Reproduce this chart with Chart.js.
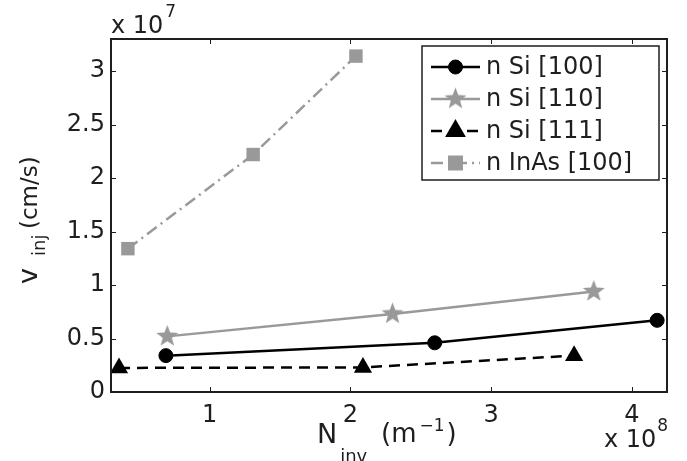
<!DOCTYPE html>
<html>
<head>
<meta charset="utf-8">
<style>
  html, body { margin: 0; padding: 0; background: #fff; }
  #wrap { width: 687px; height: 461px; position: relative; }
</style>
<script src="https://cdn.jsdelivr.net/npm/chart.js"></script>
</head>
<body>
<div id="wrap"><canvas id="injChart"></canvas></div>
<script>
// values (x in 1e8 m^-1, y in 1e7 cm/s)
var si100X = [0.69, 2.60, 4.18];
var si100Y = [0.34, 0.46, 0.67];
var si110X = [0.70, 2.30, 3.73];
var si110Y = [0.52, 0.73, 0.94];
var si111X = [0.357, 2.09, 3.59];
var si111Y = [0.225, 0.23, 0.34];
var inasX = [0.42, 1.31, 2.04];
var inasY = [1.34, 2.22, 3.14];

var seriesNames = ['n Si [100]', 'n Si [110]', 'n Si [111]', 'n InAs [100]'];
var xTicks = [1, 2, 3, 4];
var yTicks = [0, 0.5, 1, 1.5, 2, 2.5, 3];

(function injection () {
    'use strict';

    var FONT = 'DejaVu Sans';
    var INK = '#1e1e1e';
    var GREY = '#999999';

    function points (xs, ys) {
        return xs.map(function (x, i) { return { x: x, y: ys[i] }; });
    }

    function makeStar (color, outer, inner) {
        var c = document.createElement('canvas');
        var size = Math.ceil(outer * 2 + 2);
        c.width = size;
        c.height = size;
        var g = c.getContext('2d');
        var cx = size / 2;
        g.fillStyle = color;
        g.beginPath();
        for (var i = 0; i < 10; i++) {
            var r = i % 2 ? inner : outer;
            var a = -Math.PI / 2 + i * Math.PI / 5;
            var px = cx + r * Math.cos(a);
            var py = cx + r * Math.sin(a);
            if (i === 0) { g.moveTo(px, py); } else { g.lineTo(px, py); }
        }
        g.closePath();
        g.fill();
        return c;
    }

    var star = makeStar(GREY, 11.5, 4.8);

    var datasets = [{
        label: seriesNames[0],
        data: points(si100X, si100Y),
        borderColor: '#000',
        backgroundColor: '#000',
        borderWidth: 2.5,
        pointStyle: 'circle',
        pointRadius: 7,
        pointBorderWidth: 1
    }, {
        label: seriesNames[1],
        data: points(si110X, si110Y),
        borderColor: GREY,
        backgroundColor: GREY,
        borderWidth: 2.5,
        pointStyle: star,
        pointRadius: 11
    }, {
        label: seriesNames[2],
        data: points(si111X, si111Y),
        borderColor: '#000',
        backgroundColor: '#000',
        borderWidth: 2.5,
        borderDash: [11, 7],
        pointStyle: 'triangle',
        pointRadius: 10.5,
        pointBorderWidth: 0
    }, {
        label: seriesNames[3],
        data: points(inasX, inasY),
        borderColor: GREY,
        backgroundColor: GREY,
        borderWidth: 2.5,
        borderDash: [12, 5, 2, 5],
        pointStyle: 'rect',
        pointRadius: 9.5,
        pointBorderWidth: 0
    }];

    function drawMarker (ctx, ds, x, y) {
        var r = ds.pointRadius;
        ctx.save();
        ctx.setLineDash([]);
        ctx.fillStyle = ds.backgroundColor;
        ctx.strokeStyle = ds.borderColor;
        ctx.lineWidth = ds.pointBorderWidth || 0;
        if (ds.pointStyle instanceof HTMLCanvasElement) {
            ctx.drawImage(ds.pointStyle, x - ds.pointStyle.width / 2, y - ds.pointStyle.height / 2);
        } else {
            ctx.beginPath();
            if (ds.pointStyle === 'circle') {
                ctx.arc(x, y, r, 0, Math.PI * 2);
            } else if (ds.pointStyle === 'triangle') {
                ctx.moveTo(x, y - r);
                ctx.lineTo(x + r * Math.sin(2 * Math.PI / 3), y - r * Math.cos(2 * Math.PI / 3));
                ctx.lineTo(x + r * Math.sin(4 * Math.PI / 3), y - r * Math.cos(4 * Math.PI / 3));
                ctx.closePath();
            } else {
                var s = r * Math.SQRT1_2;
                ctx.rect(x - s, y - s, 2 * s, 2 * s);
            }
            ctx.fill();
            if (ctx.lineWidth) { ctx.stroke(); }
        }
        ctx.restore();
    }

    function text (ctx, str, x, y, size) {
        ctx.font = size + 'px "' + FONT + '"';
        ctx.fillText(str, x, y);
        return x + ctx.measureText(str).width;
    }

    var matlabFrame = {
        id: 'matlabFrame',
        afterDraw: function (chart) {
            var ctx = chart.ctx;
            var a = chart.chartArea;
            var xs = chart.scales.x;
            var ys = chart.scales.y;
            var tick = 5;

            ctx.save();
            ctx.strokeStyle = INK;
            ctx.lineWidth = 1;
            ctx.beginPath();
            xTicks.forEach(function (v) {
                var px = Math.round(xs.getPixelForValue(v)) + 0.5;
                ctx.moveTo(px, a.bottom); ctx.lineTo(px, a.bottom - tick);
                ctx.moveTo(px, a.top); ctx.lineTo(px, a.top + tick);
            });
            yTicks.forEach(function (v) {
                var py = Math.round(ys.getPixelForValue(v)) + 0.5;
                ctx.moveTo(a.left, py); ctx.lineTo(a.left + tick, py);
                ctx.moveTo(a.right, py); ctx.lineTo(a.right - tick, py);
            });
            ctx.stroke();

            ctx.lineWidth = 2;
            ctx.strokeRect(a.left, a.top, a.right - a.left, a.bottom - a.top);

            // legend
            var lx = 422, ly = 46, lw = 237, lh = 134;
            ctx.fillStyle = '#fff';
            ctx.fillRect(lx, ly, lw, lh);
            ctx.lineWidth = 1.5;
            ctx.strokeStyle = INK;
            ctx.strokeRect(lx, ly, lw, lh);
            var rows = [67, 99, 131, 163];
            chart.data.datasets.forEach(function (ds, i) {
                var y = rows[i];
                ctx.save();
                ctx.strokeStyle = ds.borderColor;
                ctx.lineWidth = ds.borderWidth;
                ctx.setLineDash(ds.borderDash || []);
                ctx.beginPath();
                ctx.moveTo(431, y);
                ctx.lineTo(480, y);
                ctx.stroke();
                ctx.restore();
                drawMarker(ctx, ds, 455.5, y);
                ctx.fillStyle = INK;
                ctx.textBaseline = 'middle';
                text(ctx, ds.label, 486, y + 1, 24);
            });

            ctx.fillStyle = INK;
            ctx.textBaseline = 'alphabetic';

            // exponent labels
            var e = text(ctx, 'x 10', 111, 33, 24);
            text(ctx, '7', e + 2, 17, 17);
            e = text(ctx, 'x 10', 604, 447, 24);
            text(ctx, '8', e + 1, 431, 17);

            // x title
            var cx = text(ctx, 'N', 317, 443, 27);
            text(ctx, 'inv', cx + 3, 462, 18);
            cx = text(ctx, '(m', 381, 442, 26);
            cx = text(ctx, '\u22121', cx + 3, 431, 17);
            text(ctx, ')', cx + 2, 442, 26);

            // y title
            ctx.translate(37, 0);
            ctx.rotate(-Math.PI / 2);
            text(ctx, 'v', -284, 0, 27);
            text(ctx, 'inj', -256, 8, 18);
            text(ctx, '(cm/s)', -229, 0, 23);
            ctx.restore();
        }
    };

    var ctx = document.getElementById('injChart').getContext('2d');

    new Chart(ctx, {
        type: 'line',
        data: { datasets: datasets },
        options: {
            responsive: true,
            maintainAspectRatio: false,
            animation: false,
            layout: { padding: { top: 39, right: 20, left: 0, bottom: 0 } },
            datasets: { line: { clip: false, tension: 0 } },
            plugins: {
                legend: { display: false },
                tooltip: { enabled: false }
            },
            scales: {
                x: {
                    type: 'linear',
                    min: 0.3,
                    max: 4.25,
                    grid: { display: false },
                    border: { display: false },
                    afterBuildTicks: function (scale) {
                        scale.ticks = xTicks.map(function (v) { return { value: v }; });
                    },
                    afterFit: function (scale) { scale.height = 69; },
                    ticks: {
                        padding: 1,
                        color: INK,
                        font: { family: FONT, size: 24 },
                        callback: function (v) { return String(v); }
                    }
                },
                y: {
                    type: 'linear',
                    min: 0,
                    max: 3.3,
                    grid: { display: false, drawTicks: false },
                    border: { display: false },
                    afterBuildTicks: function (scale) {
                        scale.ticks = yTicks.map(function (v) { return { value: v }; });
                    },
                    afterFit: function (scale) { scale.width = 111; },
                    ticks: {
                        padding: 6,
                        color: INK,
                        font: { family: FONT, size: 24 },
                        callback: function (v) { return String(v); }
                    }
                }
            }
        },
        plugins: [matlabFrame]
    });
}());
</script>
</body>
</html>
